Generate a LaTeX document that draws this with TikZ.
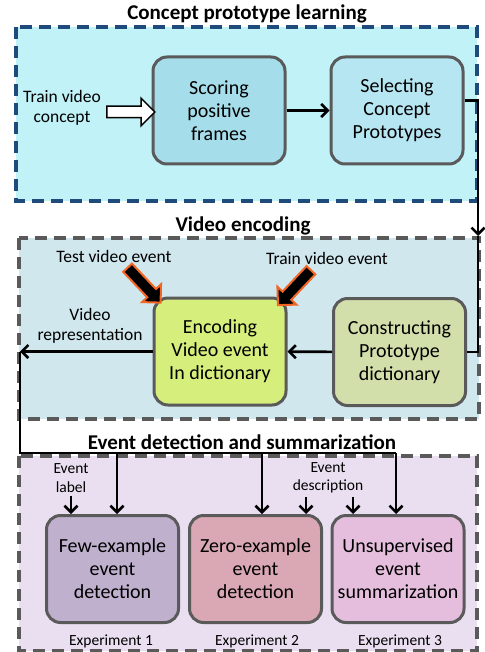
\documentclass[tikz,border=0pt]{standalone}
\usepackage{fontspec}
\setmainfont{Carlito}
\usetikzlibrary{arrows.meta,shapes.arrows}

\definecolor{cpanel}{HTML}{C0F2F7}
\definecolor{cborder}{HTML}{1F4A7C}
\definecolor{vpanel}{HTML}{D0E7EE}
\definecolor{epanel}{HTML}{EADFF0}
\definecolor{grayline}{HTML}{5A5A5A}
\definecolor{scorefill}{HTML}{A5DDEB}
\definecolor{selectfill}{HTML}{B5E6F2}
\definecolor{encodefill}{HTML}{D6EE7B}
\definecolor{constructfill}{HTML}{D3DFAA}
\definecolor{fewfill}{HTML}{BFB0CE}
\definecolor{zerofill}{HTML}{D9A8B4}
\definecolor{unsupfill}{HTML}{E4BEDC}
\definecolor{arrowedge}{HTML}{F26522}

\begin{document}
\begin{tikzpicture}[x=1pt, y=-1pt,
    panel/.style={line width=3.5pt, dash pattern=on 12pt off 7pt},
    title/.style={font=\fontsize{21}{24}\selectfont\bfseries},
    stage/.style={rounded corners=14pt, draw=grayline, line width=3pt,
      minimum width=132pt, minimum height=107pt, align=center,
      font=\fontsize{20}{23}\selectfont},
    note/.style={align=center, font=\fontsize{17.5}{20}\selectfont},
    tiny/.style={align=center, font=\fontsize{15.5}{18.5}\selectfont},
    conn/.style={line width=2.6pt, -{Straight Barb[length=6.5pt,width=13pt]}},
    wire/.style={line width=2.6pt},
    fat/.style={single arrow, fill=black, draw=arrowedge, line width=2pt,
      minimum height=48pt, inner sep=5pt, single arrow head extend=7pt}]
  \useasboundingbox (0,0) rectangle (484,652);

  % three stage panels
  \draw[panel, fill=cpanel, draw=cborder] (16,27) rectangle (477,201);
  \draw[panel, fill=vpanel, draw=grayline] (19,238) rectangle (479,419);
  \draw[panel, fill=epanel, draw=grayline] (19,456) rectangle (477,651);

  \node[title] (t1) at (247,14) {Concept prototype learning};
  \node[title] (t2) at (243,226) {Video encoding};
  \node[title] (t3) at (242,442) {Event detection and summarization};

  % concept prototype learning
  \node[stage, fill=scorefill] (scoring) at (219,110.5) {Scoring\\positive\\frames};
  \node[stage, fill=selectfill] (selecting) at (397,110.5) {Selecting\\Concept\\Prototypes};
  \node[note] (trainconcept) at (62,108) {Train video\\concept};
  \node[single arrow, fill=white, draw=black, line width=1.5pt, minimum height=48pt,
    inner sep=5pt, single arrow head extend=8pt] (inarrow) at (128,112) {};
  \draw[conn] (scoring) -- (selecting);

  % video encoding
  \node[stage, fill=encodefill] (encoding) at (220,351.5) {Encoding\\Video event\\In dictionary};
  \node[stage, fill=constructfill] (constructing) at (399.5,352) {Constructing\\Prototype\\dictionary};
  \node[note] (testev) at (114,256) {Test video event};
  \node[note] (trainev) at (327,258) {Train video event};
  \node[fat, rotate=-46.6] (testarrow) at (142,283) {};
  \node[fat, rotate=226.7] (trainarrow) at (296.5,285.5) {};
  \node[note] (rep) at (90,326) {Video\\representation};

  \coordinate (down) at (478,236);
  \coordinate (out) at (20,351.5);
  \draw[conn] ([yshift=10pt]selecting.east) -| (down);
  \draw[wire] (down) |- (constructing.east);
  \draw[conn] (constructing) -- (encoding);
  \draw[conn] (encoding) -- (out);

  % event detection and summarization
  \node[stage, fill=fewfill] (few) at (112.5,569) {Few-example\\event\\detection};
  \node[stage, fill=zerofill] (zero) at (255.5,569) {Zero-example\\event\\detection};
  \node[stage, fill=unsupfill] (unsup) at (398,569) {Unsupervised\\event\\summarization};
  \node[tiny] (evlabel) at (71,478) {Event\\label};
  \node[tiny] (evdesc) at (328,478) {Event\\description};
  \node[tiny] (exp1) at (111,641) {Experiment 1};
  \node[tiny] (exp2) at (257,641) {Experiment 2};
  \node[tiny] (exp3) at (400,641) {Experiment 3};

  \coordinate (b1) at (117,453);
  \coordinate (b2) at (262,453);
  \coordinate (b3) at (396,453);
  \draw[wire] (out) |- (b3);
  \draw[conn] (b1) -- (b1 |- few.north);
  \draw[conn] (b2) -- (b2 |- zero.north);
  \draw[conn] (b3) -- (b3 |- unsup.north);
  \draw[conn] (evlabel.south) -- (evlabel.south |- few.north);
  \draw[conn] ([xshift=-22pt]evdesc.south) -- ([xshift=-22pt]evdesc.south |- zero.north);
  \draw[conn] ([xshift=25pt]evdesc.south) -- ([xshift=25pt]evdesc.south |- unsup.north);
\end{tikzpicture}
\end{document}
